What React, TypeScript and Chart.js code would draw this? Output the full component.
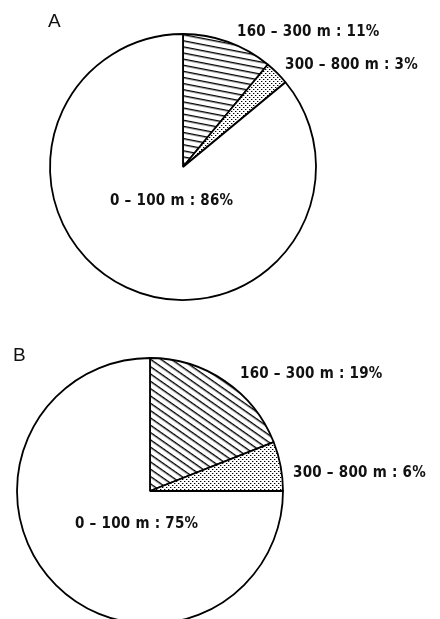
import React, { useEffect, useRef } from "react";
import { Chart, registerables } from "chart.js";

Chart.register(...registerables);

// ---- data ----
const categories = ["160 – 300 m", "300 – 800 m", "0 – 100 m"];
const valuesA = [11, 3, 86];
const valuesB = [19, 6, 75];
const panelTitles = ["A", "B"];

// ---- layout (positions only) ----
const PIE_RADIUS = 133;
const CANVAS = 300;
const pieCentres = [
  { x: 183, y: 166.5 },
  { x: 150, y: 490.5 },
];
const titlePos = [
  { x: 48, y: 20 },
  { x: 13, y: 354 },
];
const labelPos = [
  [
    { x: 237, y: 30.5 },
    { x: 285, y: 63.5 },
    { x: 110, y: 199.5 },
  ],
  [
    { x: 240, y: 372.5 },
    { x: 293, y: 471.5 },
    { x: 75, y: 522.5 },
  ],
];
const hatchAngles = [11, 35];

function linePattern(ctx: CanvasRenderingContext2D, angle: number, spacing: number) {
  const t = document.createElement("canvas");
  t.width = 12;
  t.height = spacing;
  const c = t.getContext("2d")!;
  c.fillStyle = "#fff";
  c.fillRect(0, 0, t.width, t.height);
  c.fillStyle = "#000";
  c.fillRect(0, 0, t.width, 1.4);
  const p = ctx.createPattern(t, "repeat")!;
  p.setTransform(new DOMMatrix().rotate(angle));
  return p;
}

function dotPattern(ctx: CanvasRenderingContext2D) {
  const t = document.createElement("canvas");
  t.width = 4;
  t.height = 4;
  const c = t.getContext("2d")!;
  c.fillStyle = "#fff";
  c.fillRect(0, 0, 4, 4);
  c.fillStyle = "#000";
  c.fillRect(0, 0, 1, 1);
  c.fillRect(2, 2, 1, 1);
  c.fillStyle = "rgba(0,0,0,0.35)";
  c.fillRect(1, 0, 1, 1);
  c.fillRect(3, 2, 1, 1);
  return ctx.createPattern(t, "repeat")!;
}

function Pie({ values, idx }: { values: number[]; idx: number }) {
  const ref = useRef<HTMLCanvasElement>(null);
  useEffect(() => {
    const canvas = ref.current!;
    const ctx = canvas.getContext("2d")!;
    const chart = new Chart(canvas, {
      type: "pie",
      data: {
        labels: categories,
        datasets: [
          {
            data: values,
            backgroundColor: [linePattern(ctx, hatchAngles[idx], 6), dotPattern(ctx), "#ffffff"],
            borderColor: "#000",
            borderWidth: 1.8,
          },
        ],
      },
      options: {
        responsive: false,
        animation: false,
        events: [],
        radius: PIE_RADIUS,
        layout: { padding: 0 },
        plugins: { legend: { display: false }, tooltip: { enabled: false } },
      },
    });
    return () => chart.destroy();
  }, []);
  const c = pieCentres[idx];
  return (
    <canvas
      ref={ref}
      width={CANVAS}
      height={CANVAS}
      style={{ position: "absolute", left: c.x - CANVAS / 2, top: c.y - CANVAS / 2, width: CANVAS, height: CANVAS }}
    />
  );
}

const labelStyle: React.CSSProperties = {
  position: "absolute",
  transform: "translateY(-50%)",
  lineHeight: 1,
  whiteSpace: "nowrap",
  fontFamily: "'DejaVu Sans Condensed', 'DejaVu Sans', sans-serif",
  fontWeight: "bold",
  fontSize: 15,
  color: "#111",
  letterSpacing: 0.25,
};

export default function App() {
  const sets = [valuesA, valuesB];
  return (
    <div style={{ position: "fixed", left: 0, top: 0, width: 440, height: 619, overflow: "hidden", background: "#fff" }}>
      {sets.map((vals, i) => (
        <React.Fragment key={i}>
          <Pie values={vals} idx={i} />
          <div
            style={{
              position: "absolute",
              left: titlePos[i].x,
              top: titlePos[i].y,
              transform: "translateY(-50%)",
              lineHeight: 1,
              fontFamily: "'Liberation Sans', sans-serif",
              fontSize: 19,
              color: "#111",
            }}
          >
            {panelTitles[i]}
          </div>
          {vals.map((v, j) => (
            <div key={j} style={{ ...labelStyle, left: labelPos[i][j].x, top: labelPos[i][j].y }}>
              {`${categories[j]} : ${v}%`}
            </div>
          ))}
        </React.Fragment>
      ))}
    </div>
  );
}
